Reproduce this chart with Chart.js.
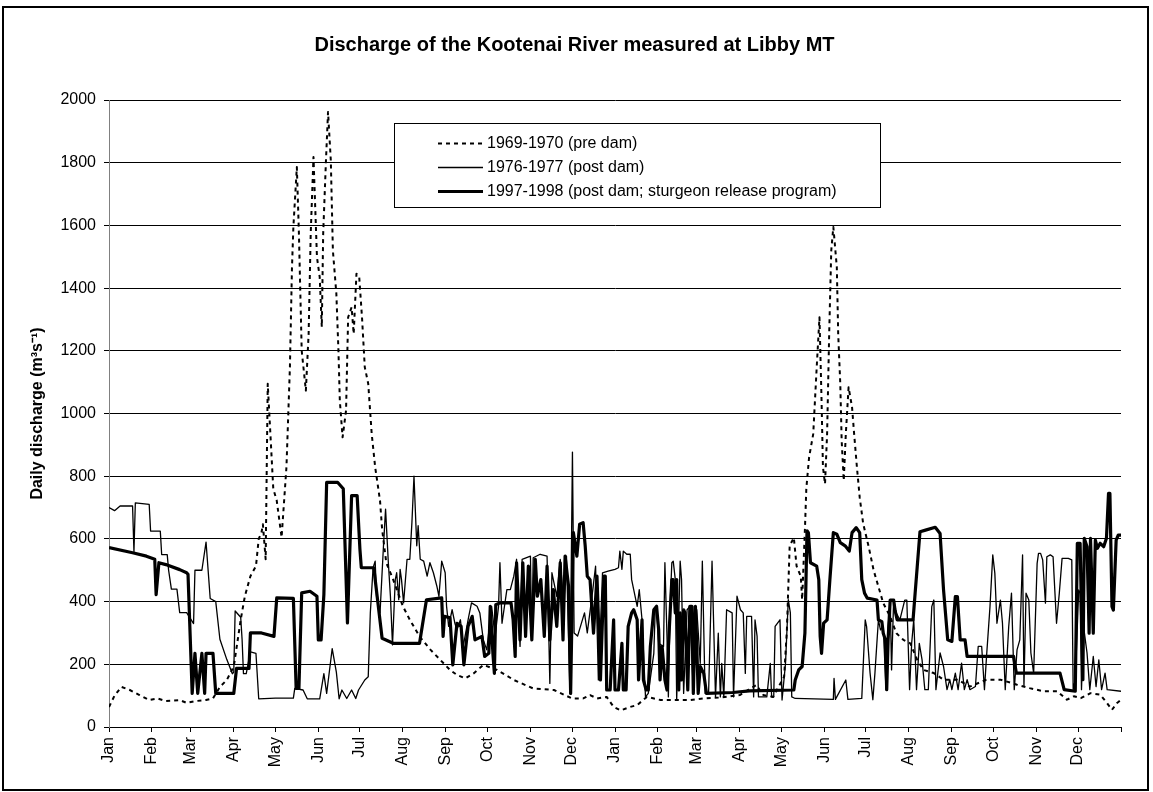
<!DOCTYPE html>
<html>
<head>
<meta charset="utf-8">
<script src="https://cdn.jsdelivr.net/npm/chart.js@4.4.1/dist/chart.umd.min.js"></script>
<style>
  html, body { margin: 0; padding: 0; background: #fff; }
  canvas { display: block; }
</style>
</head>
<body>
<canvas id="chart" width="1153" height="792"></canvas>
<script>
// --- Data (day of the two-year window, discharge m3/s) ---
const monthNames = ["Jan","Feb","Mar","Apr","May","Jun","Jul","Aug","Sep","Oct","Nov","Dec"];
const monthLengths = [31,28,31,30,31,30,31,31,30,31,30,31];
const yTicks = [0,200,400,600,800,1000,1200,1400,1600,1800,2000];
const seriesNames = [
  "1969-1970 (pre dam)",
  "1976-1977 (post dam)",
  "1997-1998 (post dam; sturgeon release program)"
];

const preDam = [
  [0,64],[4,100],[9,128],[15,118],[22,102],[29,86],[35,91],[41,83],[51,86],[56,77],[63,83],[70,86],[75,91],
  [80,128],[85,150],[90,193],[95,342],[98,417],[102,481],[106,513],[108,600],[110,620],[111,647],[113,535],
  [114.5,1095],[118.5,760],[121,722],[124.5,605],[128,829],[130.5,1148],[132,1467],[133,1595],[135.5,1786],
  [137,1573],[139,1201],[142,1073],[144,1254],[145.5,1573],[147.5,1818],[150,1499],[152,1435],[153.5,1276],
  [154.5,1573],[156.5,1807],[158,1962],[160,1807],[161.5,1520],[164,1382],[165.5,1201],[166.5,1041],[168.5,924],
  [171,1010],[172.5,1307],[175,1339],[176.5,1254],[178.5,1446],[180.5,1435],[182.5,1307],[184.5,1148],[187,1095],
  [189.5,935],[192,829],[195.5,722],[197,631],[200,524],[205,470],[212,385],[217,342],[224,289],[232,246],
  [239,214],[246,182],[251,166],[257,155],[263,171],[270,198],[280,182],[292,150],[306,123],[321,118],[334,91],
  [342,91],[347,102],[352,91],[359,96],[364,64],[369,53],[376,64],[381,70],[388,96],[398,86],[407,86],[419,86],
  [429,91],[441,94],[455,102],[467,134],[472,102],[479,96],[487,160],[489,310],[491,578],[494,604],[496,513],
  [499,481],[500,406],[502,631],[503,760],[505,860],[508,935],[510.5,1148],[512.5,1307],[514,1041],[515,829],
  [516.5,775],[518,935],[519.5,1254],[521,1520],[522.5,1595],[525,1467],[526,1254],[527.5,1095],[528.5,914],
  [530,786],[531.5,935],[533.5,1084],[536,1020],[537.5,935],[539.5,829],[541.5,733],[544,649],[548,575],
  [551.5,501],[555,448],[558.5,395],[563.5,352],[568,299],[573,278],[578,267],[583,214],[587.5,182],[595,172],
  [602,151],[612,151],[621,129],[633,151],[643,151],[655,135],[664,124],[674,114],[684,114],[691,87],[696,98],
  [701,92],[708,108],[715,103],[720,76],[723.5,55],[727,76],[730,87]
];

const postDam = [
  [0,700],[4,690],[8,705],[17,705],[18,560],[19,715],[29,710],[30,625],[37,625],[38,550],[42,550],[43,500],
  [45,440],[49,440],[51,365],[56,365],[61,330],[62,500],[67,500],[70,590],[73,410],[77,400],[80,280],[85,215],
  [89,170],[90,175],[91,370],[95,350],[96,280],[97,170],[99,170],[102,240],[106,235],[108,90],[120,92],[133,92],
  [134,123],[140,118],[143,90],[152,90],[155,170],[157,107],[161,250],[164,175],[166,90],[168,118],[171.5,91],
  [175,118],[178,91],[180,118],[184.5,150],[187,160],[188.5,364],[190.5,508],[192,529],[193,417],[195.5,364],
  [198,578],[199.5,695],[201.5,524],[203,417],[204.5,262],[206.5,470],[207.5,492],[209,406],[210,503],[211,470],
  [212.5,396],[215,535],[217,535],[218.5,652],[220,800],[222,578],[223,642],[224.5,535],[227,529],[229.5,481],
  [231.5,524],[234,492],[236.5,449],[238,417],[240,529],[242.5,492],[243.5,385],[245,321],[247.5,374],[249.5,331],
  [251,310],[253.5,342],[255.5,257],[259.5,353],[261.5,396],[265.5,385],[267.5,364],[270,278],[272.5,246],
  [276,385],[278.5,289],[281,385],[282,524],[283.5,331],[287,438],[289.5,438],[292,481],[294,535],[296.5,257],
  [298,535],[304,545],[305,278],[306,540],[311,551],[316,545],[318,139],[319.5,492],[323,417],[325.5,535],
  [328,385],[330,545],[332.5,107],[334.3,877],[335.5,300],[338,290],[343,364],[345,300],[349,438],[351,513],
  [353,150],[356,492],[360,497],[365,503],[367.5,508],[368.5,561],[370,503],[371,561],[373.5,551],[376,551],
  [377,470],[379.5,417],[381,385],[382.5,438],[384.5,342],[387,96],[389,107],[393,235],[394,374],[395,385],
  [396.5,267],[400,257],[401,524],[402.5,289],[403.5,96],[405,417],[406,524],[407,529],[408.5,470],[409.5,86],
  [412,529],[413,470],[414.5,107],[417,374],[419,385],[421.5,107],[424,374],[426.5,203],[428,529],[430,107],
  [432.5,107],[435,529],[437.5,96],[439.5,299],[441,96],[442,203],[443.5,96],[445.5,374],[449.5,364],[450.5,96],
  [453,417],[455.5,374],[457.5,364],[459,171],[460,353],[463.5,353],[465,96],[466,342],[467.5,289],[468.5,96],
  [474.5,96],[477,203],[478,96],[479.5,96],[480.5,321],[484,342],[485.5,86],[488,203],[490,406],[491.5,364],
  [492.5,96],[495,91],[522.5,88],[523,155],[524,88],[531.5,150],[533,88],[543,91],[545.5,342],[546.5,320],
  [549,172],[551,87],[552.5,172],[555,342],[556.5,310],[558.5,320],[560.5,119],[562,320],[563.5,405],[564.5,182],
  [566,405],[568,363],[570.5,342],[574,405],[575.5,405],[577.5,119],[579,267],[580.5,342],[582.5,119],[584.5,267],
  [586.5,214],[588.5,119],[591,119],[593.5,384],[595,405],[596.5,119],[599.5,236],[602,193],[604.5,119],
  [606.5,151],[608,119],[610.5,172],[612.5,119],[615,204],[617,119],[619,151],[621,119],[625,129],[627,257],
  [629.5,257],[631.5,119],[633,225],[635.5,384],[637.5,549],[639,490],[640.5,331],[643,405],[644.5,331],
  [646.5,119],[649,320],[651,427],[653,119],[655,246],[657,278],[659,549],[660,130],[661.5,427],[663.5,405],
  [665,236],[667,172],[669.5,522],[670.5,554],[672,554],[673.5,533],[675.5,395],[676.5,543],[679,549],[681,543],
  [683.5,331],[685.5,427],[687.5,538],[692,538],[694.5,533],[695.5,119],[697,150],[699.5,437],[700.5,427],
  [701.5,119],[703,320],[705.5,236],[707.5,119],[710,225],[712,129],[714,214],[716,119],[718.5,172],[720,119],
  [730,114]
];

const sturgeon = [
  [0,572],[17,556],[27,545],[33,535],[34,422],[36,524],[41,518],[51,502],[56,492],[57,487],[60,107],[62,235],
  [64,107],[67,235],[69,107],[70,235],[75,235],[77,107],[90,107],[92,187],[101,187],[102,300],[110,300],[119,289],
  [121,412],[133,410],[135,123],[137,123],[139,428],[145,433],[150,417],[151,278],[153,278],[155,422],[157,780],
  [165,780],[169,760],[172,332],[175,738],[179,738],[181,567],[182,508],[191,508],[197,283],[205,267],[224,267],
  [229,406],[240,412],[241,289],[242,353],[246,348],[248,198],[251,331],[254,321],[256,198],[259,321],[262,353],
  [264,278],[269,289],[271,225],[274,235],[275,385],[277,230],[278,171],[279,390],[282,396],[290,396],[291.5,342],
  [293,225],[294,524],[296.5,278],[298.5,524],[300.5,289],[302.5,513],[305,278],[307.5,535],[309,417],[311.5,470],
  [314,289],[316,513],[318,278],[320.5,438],[323,321],[325.5,524],[327.5,278],[329,545],[331.5,449],[333,107],
  [335,620],[337.5,545],[339.5,647],[342,652],[343.5,578],[345,481],[347,470],[349.5,299],[352,481],[354.5,150],
  [357,481],[358,481],[359,118],[361.5,118],[364,342],[365,118],[367.5,118],[370,267],[371,118],[373,118],
  [374.5,321],[377,364],[378.5,374],[381,342],[382,150],[384.5,342],[385.5,150],[387.5,118],[389,118],[390.5,257],
  [393,374],[395,385],[396.5,310],[397.5,150],[399,257],[401,150],[402.5,118],[403.5,257],[405,385],[406,470],
  [407,470],[408.5,364],[409.5,470],[411,118],[412,364],[413,150],[414.5,374],[415.5,364],[417.5,118],[419,385],
  [420.5,385],[421.5,107],[423,385],[424,257],[425,107],[426.5,193],[429,171],[431,107],[450,110],[462,115],
  [494,118],[495,150],[497.5,182],[500,193],[502,300],[503.5,626],[504.5,620],[506,524],[510.5,513],[512,470],
  [513,289],[514,235],[515.5,331],[518,342],[520,470],[522.5,620],[525,615],[527.5,588],[531,578],[534,561],
  [536,620],[539,636],[541.5,620],[543,470],[545,427],[547,411],[554,405],[555,342],[557.5,336],[558.5,299],
  [560,278],[561,119],[562,278],[563.5,405],[566,405],[567,373],[568.5,342],[580,342],[581.5,427],[583,511],
  [585,623],[589,628],[596,637],[599.5,617],[602,437],[603,384],[605,278],[608,273],[610.5,416],[612,416],
  [614,278],[617.5,278],[619,225],[652.5,225],[654.5,172],[686,172],[689,119],[697,114],[698.5,586],[700.5,586],
  [702.5,151],[703.5,602],[705.5,575],[707,299],[708,602],[710,299],[711.5,596],[713,570],[715,586],[717.5,575],
  [719.5,602],[721,745],[722,745],[723.5,384],[724.5,373],[726.5,596],[728,612],[730,612]
];

// --- Helpers ---
const monthStarts = [0];
for (let i = 0; i < 24; i++) monthStarts.push(monthStarts[i] + monthLengths[i % 12]);
const toXY = arr => arr.map(p => ({ x: p[0], y: p[1] }));

Chart.defaults.font.family = "'Liberation Sans', Arial, sans-serif";
Chart.defaults.color = "#000";

const styles = [
  { borderWidth: 2, borderDash: [4, 4] },
  { borderWidth: 1.3, borderDash: [] },
  { borderWidth: 3.2, borderDash: [] }
];

// legend box inside the plot + outer frame
const legendBox = {
  id: "legendBox",
  afterDatasetsDraw(chart) {
    const ctx = chart.ctx;
    ctx.save();
    ctx.fillStyle = "#fff";
    ctx.fillRect(394, 123, 486, 84);
    ctx.strokeStyle = "#000";
    ctx.lineWidth = 1;
    ctx.strokeRect(394.5, 123.5, 486, 84);
    const rows = [143, 167, 191];
    ctx.font = "16px 'Liberation Sans', Arial, sans-serif";
    ctx.textBaseline = "middle";
    rows.forEach((y, i) => {
      ctx.beginPath();
      ctx.lineWidth = styles[i].borderWidth;
      ctx.setLineDash(styles[i].borderDash);
      ctx.moveTo(438, y + 0.5);
      ctx.lineTo(483, y + 0.5);
      ctx.stroke();
      ctx.setLineDash([]);
      ctx.fillStyle = "#000";
      ctx.fillText(seriesNames[i], 487, y + 1);
    });
    ctx.restore();
  },
  afterDraw(chart) {
    const ctx = chart.ctx;
    ctx.save();
    ctx.strokeStyle = "#000";
    ctx.lineWidth = 2;
    ctx.strokeRect(3, 7, 1145, 783);
    ctx.restore();
  }
};

new Chart(document.getElementById("chart").getContext("2d"), {
  type: "line",
  data: {
    datasets: [preDam, postDam, sturgeon].map((d, i) => ({
      label: seriesNames[i],
      data: toXY(d),
      borderColor: "#000",
      borderWidth: styles[i].borderWidth,
      borderDash: styles[i].borderDash,
      borderJoinStyle: "round",
      pointRadius: 0,
      tension: 0,
      fill: false
    }))
  },
  options: {
    responsive: false,
    animation: false,
    devicePixelRatio: 1,
    layout: { padding: { left: 28, right: 32, top: 0, bottom: 8 } },
    plugins: {
      legend: { display: false },
      tooltip: { enabled: false },
      title: {
        display: true,
        text: "Discharge of the Kootenai River measured at Libby MT",
        font: { size: 20, weight: "bold" },
        color: "#000",
        padding: { top: 33, bottom: 43 }
      }
    },
    scales: {
      x: {
        type: "linear",
        min: 0,
        max: 730,
        afterBuildTicks: s => { s.ticks = monthStarts.map(v => ({ value: v })); },
        afterFit: s => { s.height = 57; },
        ticks: {
          autoSkip: false,
          minRotation: 90,
          maxRotation: 90,
          padding: 5,
          font: { size: 16 },
          callback: v => {
            const i = monthStarts.indexOf(v);
            return i >= 0 && i < 24 ? monthNames[i % 12] : "";
          }
        },
        grid: { drawOnChartArea: false, drawTicks: true, tickLength: 5, color: "#000" },
        border: { color: "#000", width: 1 }
      },
      y: {
        min: 0,
        max: 2000,
        afterBuildTicks: s => { s.ticks = yTicks.map(v => ({ value: v })); },
        afterFit: s => { s.width = 81; },
        ticks: { padding: 8, font: { size: 16 }, callback: v => String(v) },
        grid: { color: "#000", lineWidth: 1, tickLength: 5 },
        border: { color: "#808080", width: 1 },
        title: {
          display: true,
          text: "Daily discharge (m³s⁻¹)",
          font: { size: 16, weight: "bold" },
          color: "#000",
          padding: { top: 0, bottom: 6 }
        }
      }
    }
  },
  plugins: [legendBox]
});
</script>
</body>
</html>
